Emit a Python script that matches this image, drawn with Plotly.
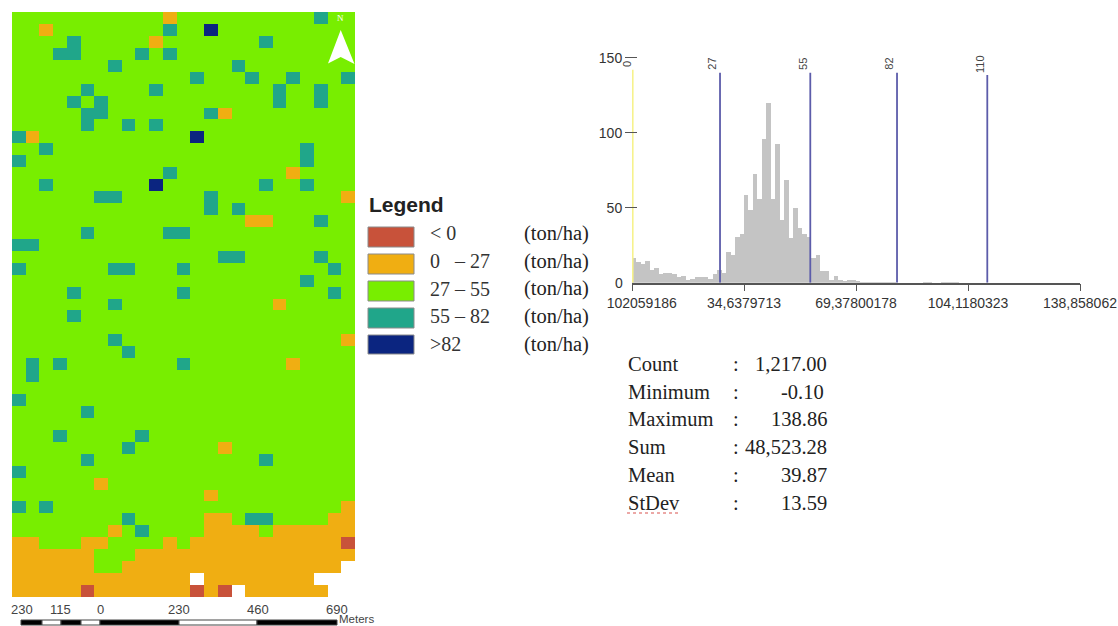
import plotly.graph_objects as go

W, H = 1118, 626

# ---------- data ----------
# Map classes per cell: 0 <0, 1 0-27, 2 27-55, 3 55-82, 4 >82, . no data
map_rows = [
"22222 22222 21222 22222 22322",
"22122 22222 23224 22222 22222",
"22223 22222 12222 22232 22222",
"22233 22223 23222 22222 22222",
"22222 22322 22222 23222 22222",
"22222 22222 22232 22322 32223",
"22222 32222 32222 22223 22322",
"22223 23222 22222 22223 22322",
"22222 33222 22223 12222 22222",
"22222 32232 32222 22222 22222",
"31222 22222 22242 22222 22222",
"22322 22222 22222 22222 23222",
"32222 22222 22222 22222 23222",
"22222 22222 23222 22222 12222",
"22322 22222 42222 22232 23222",
"22222 23322 22223 22222 22221",
"22222 22222 22223 23222 22222",
"22222 22222 22222 22112 22322",
"22222 32222 23322 22222 22222",
"33222 22222 22222 22222 22222",
"22222 22222 22222 33222 22322",
"32222 22332 22322 22222 22232",
"22222 22222 22222 22222 23222",
"22223 22222 22322 22222 22232",
"22222 22322 22222 22221 22222",
"22223 22222 22222 22222 22222",
"22222 22222 22222 22222 22222",
"22222 22322 22222 22222 22221",
"22222 22232 22222 22222 22222",
"23232 22222 22322 22222 12222",
"23222 22222 22222 22222 22222",
"22222 22222 22222 22222 22222",
"32222 22222 22222 22222 22222",
"22222 32222 22222 22222 22222",
"22222 22222 22222 22222 22222",
"22232 22223 22222 22222 22222",
"22222 22232 22222 12222 22222",
"22222 32222 22222 22232 22222",
"32222 22222 22222 22222 22222",
"22222 21222 22222 22222 22222",
"22222 22222 22221 22222 22222",
"32322 22222 22222 22222 22221",
"22222 22232 22221 12332 22211",
"22222 22123 22221 11121 11111",
"11222 11222 21211 11111 11110",
"11111 12221 11111 11111 11111",
"11111 12211 11111 11111 1111.",
"11111 11111 111.1 11111 11...",
"11111 01111 11101 0.111 111..",
]
class_colors = ["#c8523a", "#f0ae12", "#78ee00", "#20a68a", "#0b2580"]
legend_labels = ["< 0", "0   \u2013 27", "27 \u2013 55", "55 \u2013 82", ">82"]
legend_unit = "(ton/ha)"

hist_counts = [17, 14, 13, 15, 9, 10, 6, 7, 7, 6, 4, 5, 2, 3, 4, 4, 4, 3, 6, 9,
               7, 21, 19, 31, 33, 59, 49, 73, 56, 96, 120, 56, 93, 42, 69, 30, 50, 37, 33, 31,
               17, 19, 8, 8, 2, 5, 2, 1, 2, 2, 1, 0.5, 0.3, 0.3, 0.3, 0.5, 0.3, 0.3, 0.3, 0,
               0, 0, 0, 0, 0, 0.3, 0.3, 0, 0, 0.3, 0.5, 0.5, 0.3, 0, 0, 0, 0, 0, 0, 0,
               0, 0, 0, 0, 0, 0, 0, 0, 0, 0, 0, 0, 0, 0, 0, 0, 0, 0, 0, 0]
hist_min, hist_max = -0.102059186, 138.858062
x_ticks = [-0.102059186, 34.6379713, 69.37800178, 104.1180323, 138.858062]
x_tick_text = ["\u00a0\u00a0\u00a0\u00a0\u00a0102059186", "34,6379713", "69,37800178", "104,1180323", "138,858062"]
y_ticks = [50, 100, 150]
breaks = [0, 27.2, 55.2, 82.1, 110.1]
break_tops = [142, 140, 140, 140, 138.5]
break_labels = ["0", "27", "55", "82", "110"]

stat_names = ["Count", "Minimum", "Maximum", "Sum", "Mean", "StDev"]
stat_values = ["1,217.00", "-0.10", "138.86", "48,523.28", "39.87", "13.59"]

scale_labels = ["230", "115", "0", "230", "460", "690"]

# ---------- helpers ----------
def px(x): return x / W
def py(y): return 1 - y / H
SERIF = "Liberation Serif"
SANS = "Liberation Sans"

def label(x, y, text, size, font=SANS, color="#333", anchor="left", **kw):
    return dict(xref="paper", yref="paper", x=px(x), y=py(y), text=text, showarrow=False,
                xanchor=anchor, yanchor="middle", font=dict(family=font, size=size, color=color),
                borderpad=0, **kw)

def rect(x0, y0, x1, y1, fill, line=None):
    return dict(type="rect", xref="paper", yref="paper", x0=px(x0), x1=px(x1), y0=py(y1), y1=py(y0),
                fillcolor=fill, line=dict(width=1 if line else 0, color=line or fill))

# ---------- figure ----------
cells = [[None if c == "." else int(c) for c in r.replace(" ", "")] for r in map_rows]
steps = []
for i, c in enumerate(class_colors):
    steps += [[i / 5, c], [(i + 1) / 5, c]]

fig = go.Figure()
fig.add_trace(go.Heatmap(z=cells, zmin=-0.5, zmax=4.5, colorscale=steps, showscale=False,
                         hoverinfo="skip", xaxis="x", yaxis="y"))

bin_w = (hist_max - hist_min) / len(hist_counts)
fig.add_trace(go.Bar(x=[hist_min + (i + .5) * bin_w for i in range(len(hist_counts))], y=hist_counts,
                     width=bin_w, marker=dict(color="#c4c4c4", line=dict(width=0)),
                     xaxis="x2", yaxis="y2", hoverinfo="skip"))
for i, (b, t) in enumerate(zip(breaks, break_tops)):
    fig.add_trace(go.Scatter(x=[b, b], y=[0, t], mode="lines", xaxis="x2", yaxis="y2", hoverinfo="skip",
                             line=dict(color="#f6f28c" if i == 0 else "#5c5caa", width=2.5 if i == 0 else 1.8)))

ann, shapes = [], []

# legend
ann.append(label(368, 204, "<b>Legend</b>", 21, SANS, "#222"))
sw_tops = [227, 254, 281, 308, 335]
sw_bots = [247, 274, 301, 328, 354]
legend_y = [233, 261, 289, 316, 344]
for i, (lab, col) in enumerate(zip(legend_labels, class_colors)):
    shapes.append(rect(368, sw_tops[i], 414, sw_bots[i], col, "#8a8a8a"))
    ann.append(label(429, legend_y[i], lab, 20, SERIF, "#333"))
    ann.append(label(523, legend_y[i], legend_unit, 20.5, SERIF, "#222"))

# histogram labels
for b, t, lab in zip(breaks, break_tops, break_labels):
    ann.append(dict(xref="x2", yref="y2", x=b, y=146, text=lab, textangle=-90, showarrow=False,
                    xshift=-8 if b else -6, font=dict(family=SANS, size=11, color="#444"),
                    xanchor="center", yanchor="middle"))
ann.append(label(624, 283, "0", 14, SANS, "#333", anchor="right"))

# statistics
stat_y = [364, 392, 419, 447, 475, 503]
for n, v, y in zip(stat_names, stat_values, stat_y):
    ann.append(label(627, y, n, 20.5, SERIF, "#222"))
    ann.append(label(736, y, ":", 20.5, SERIF, "#222", anchor="center"))
    ann.append(label(825 if n == "Minimum" else 828, y, v, 20.5, SERIF, "#222", anchor="right"))
shapes.append(dict(type="line", xref="paper", yref="paper", x0=px(627), x1=px(679), y0=py(513), y1=py(513),
                   line=dict(color="#d9534f", width=1.2, dash="dot")))

# scale bar
scale_x = [22, 61, 100, 179, 258, 337]
for x, s in zip(scale_x, scale_labels):
    ann.append(label(x, 609.5, s, 13, SANS, "#444", anchor="center"))
ann.append(label(338, 618.5, "Meters", 11.5, SANS, "#444"))
seg = [21, 42, 61, 81, 100, 179, 257, 337]
for i in range(len(seg) - 1):
    shapes.append(rect(seg[i], 620, seg[i + 1], 625, "#000" if i % 2 == 0 else "#fff", "#444"))

# north arrow
shapes.append(dict(type="path", xref="paper", yref="paper", fillcolor="#ffffff", line=dict(width=0),
                   path=f"M {px(340.7)} {py(30)} L {px(354.5)} {py(64)} L {px(340.7)} {py(57)} L {px(328)} {py(63.5)} Z"))
ann.append(label(340.7, 18, "N", 9, SERIF, "#ffffff", anchor="center"))

fig.update_layout(
    width=W, height=H, margin=dict(l=0, r=0, t=0, b=0, autoexpand=False), autosize=False,
    paper_bgcolor="white", plot_bgcolor="white", showlegend=False, bargap=0,
    xaxis=dict(domain=[px(12), px(355)], range=[-0.5, 24.5], visible=False, fixedrange=True),
    yaxis=dict(domain=[py(597), py(12)], range=[48.5, -0.5], visible=False, fixedrange=True),
    xaxis2=dict(domain=[px(632), px(1080)], range=[hist_min, hist_max], anchor="y2",
                tickvals=x_ticks, ticktext=x_tick_text, ticks="outside", ticklen=7, tickwidth=1.3,
                tickcolor="#555", showline=True, linecolor="#555", linewidth=1.5, showgrid=False,
                zeroline=False, tickfont=dict(family=SANS, size=14, color="#333"), tickangle=0,
                fixedrange=True),
    yaxis2=dict(domain=[py(282.7), py(57.7)], range=[0, 150], anchor="free", position=px(637),
                tickvals=y_ticks, ticks="outside", ticklen=12, tickwidth=1.3, tickcolor="#555",
                showline=False, showgrid=False, zeroline=False,
                tickfont=dict(family=SANS, size=14, color="#333"), fixedrange=True),
    annotations=ann, shapes=shapes,
)

fig.write_html("out.html", config={"displayModeBar": False}, post_script="document.body.style.margin='0';")
